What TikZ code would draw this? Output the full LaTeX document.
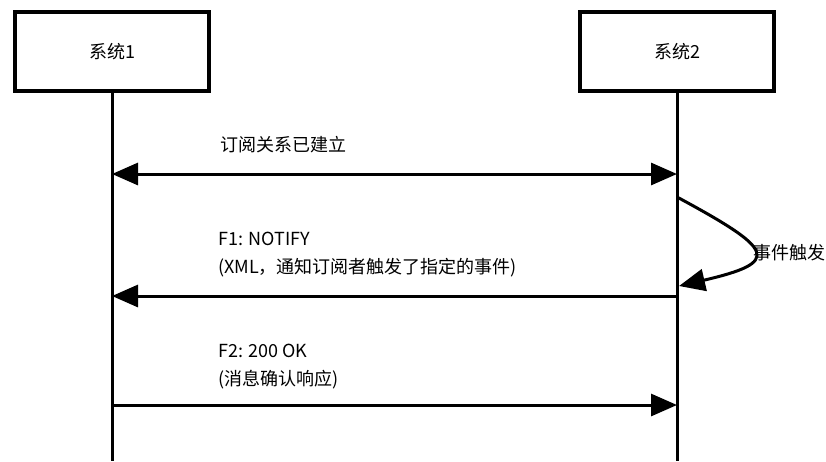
\documentclass[tikz,border=0pt]{standalone}
\usepackage{fontspec}
\setmainfont{Noto Sans CJK SC}
\usetikzlibrary{arrows.meta}
\begin{document}
\begin{tikzpicture}[x=1pt, y=-1pt,
    sysbox/.style={draw, line width=4pt, minimum width=194pt, minimum height=79pt, inner sep=0pt, font=\fontsize{18}{20}\selectfont},
    life/.style={line width=3pt},
    msg/.style={line width=3pt, -{Triangle[length=26pt, width=22pt]}},
    msgboth/.style={line width=3pt, {Triangle[length=26pt, width=22pt]}-{Triangle[length=26pt, width=22pt]}},
    lbl/.style={anchor=west, inner sep=0pt, align=left, font=\fontsize{18}{28}\selectfont}]
  \useasboundingbox (0, 0) rectangle (826, 461);

  \node [sysbox] (sys1) at (112, 51.5) {系统1};
  \node [sysbox] (sys2) at (677, 51.5) {系统2};

  \coordinate (bottom) at (0, 461);
  \coordinate (y1) at (0, 174);
  \coordinate (y2) at (0, 296);
  \coordinate (y3) at (0, 405);
  \draw [life] (sys1.south) -- (sys1 |- bottom);
  \draw [life] (sys2.south) -- (sys2 |- bottom);

  \draw [msgboth] (sys1 |- y1) -- (sys2 |- y1);
  \node [lbl] (subscribed) at (220, 145) {订阅关系已建立};

  \coordinate (loopstart) at (677, 197);
  \coordinate (loopend) at (679, 286);
  \draw [msg] (loopstart) .. controls (775, 250) and (782, 262) .. (loopend);
  \node [lbl] (trigger) at (753, 253) {事件触发};

  \draw [msg] (sys2 |- y2) -- (sys1 |- y2);
  \node [lbl] (notify) at (218, 255) {F1: NOTIFY\\(XML，通知订阅者触发了指定的事件)};

  \draw [msg] (sys1 |- y3) -- (sys2 |- y3);
  \node [lbl] (ok) at (218, 366.5) {F2: 200 OK\\(消息确认响应)};
\end{tikzpicture}
\end{document}
